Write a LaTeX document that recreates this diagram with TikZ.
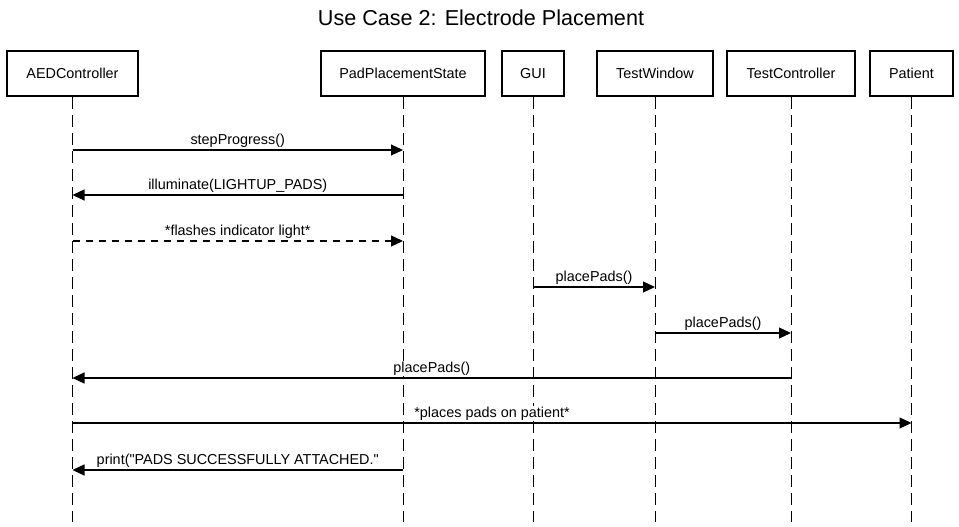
\documentclass[tikz,border=0pt]{standalone}
\usepackage{fontspec}
\setmainfont{Liberation Sans}[Ligatures=TeXOff]
\usepackage{tikz}
\usetikzlibrary{arrows.meta}

\begin{document}
\begin{tikzpicture}[x=1pt, y=-1pt,
  actor/.style={draw, line width=2.2pt, minimum height=45pt, inner sep=0pt,
    font=\fontsize{14.4}{17}\selectfont},
  life/.style={line width=1pt, dash pattern=on 12pt off 6pt},
  msg/.style={line width=1.2pt, -{Triangle[length=12pt,width=11pt]}},
  reply/.style={msg, dash pattern=on 7pt off 6pt},
  lbl/.style={anchor=base, fill=white, inner sep=1pt, font=\fontsize{14.4}{17}\selectfont}]
\useasboundingbox (0,0) rectangle (959,527);
\node[anchor=base, font=\fontsize{21.6}{26}\selectfont] (title) at (481,26) {Use Case 2: Electrode Placement};

% participants
\node[actor, minimum width=131pt] (aed) at (72.5,73.5) {AEDController};
\node[actor, minimum width=164pt] (pps) at (403,73.5) {PadPlacementState};
\node[actor, minimum width=62pt] (gui) at (533,73.5) {GUI};
\node[actor, minimum width=116pt] (tw) at (655,73.5) {TestWindow};
\node[actor, minimum width=128pt] (tc) at (791,73.5) {TestController};
\node[actor, minimum width=83pt] (pat) at (911.5,73.5) {Patient};

\coordinate (bot) at (0,522);
\foreach\p in {aed,pps,gui,tw,tc,pat}{
  \draw[life] (\p.south) -- (\p.south |- bot);
}

% message rows
\coordinate (r1) at (0,150);
\coordinate (r2) at (0,195);
\coordinate (r3) at (0,241);
\coordinate (r4) at (0,287);
\coordinate (r5) at (0,333);
\coordinate (r6) at (0,378);
\coordinate (r7) at (0,423);
\coordinate (r8) at (0,470);

\draw[msg] (aed |- r1) -- node[lbl, yshift=6pt] {stepProgress()} (pps |- r1);
\draw[msg] (pps |- r2) -- node[lbl, yshift=6pt] {illuminate(LIGHTUP\_PADS)} (aed |- r2);
\draw[reply] (aed |- r3) -- node[lbl, yshift=6pt] {*flashes indicator light*} (pps |- r3);
\draw[msg] (gui |- r4) -- node[lbl, yshift=6pt] {placePads()} (tw |- r4);
\draw[msg] (tw |- r5) -- node[lbl, yshift=6pt] {placePads()} (tc |- r5);
\draw[msg] (tc |- r6) -- node[lbl, yshift=6pt] {placePads()} (aed |- r6);
\draw[msg] (aed |- r7) -- node[lbl, yshift=6pt] {*places pads on patient*} (pat |- r7);
\draw[msg] (pps |- r8) -- node[lbl, yshift=6pt] {print("PADS SUCCESSFULLY ATTACHED."} (aed |- r8);
\end{tikzpicture}
\end{document}
